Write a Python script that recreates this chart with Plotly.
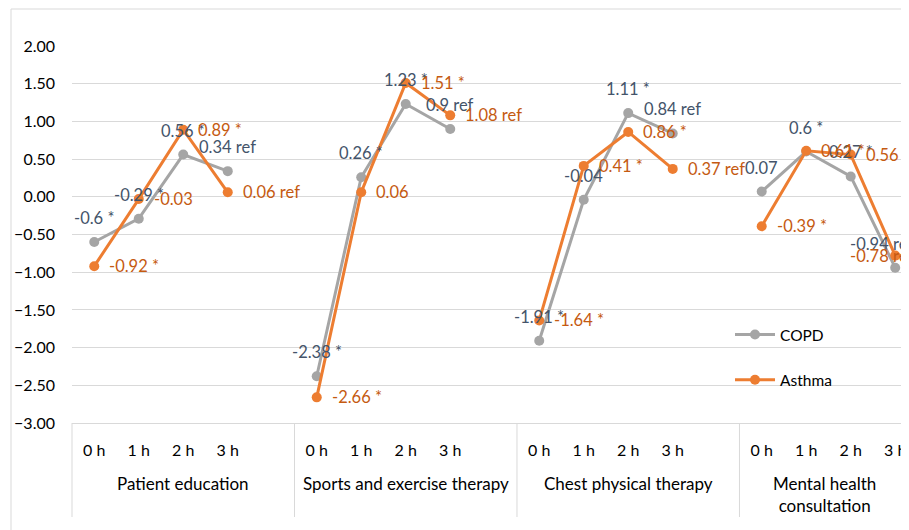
import plotly.graph_objects as go

groups = ["Patient education", "Sports and exercise therapy", "Chest physical therapy", "Mental health<br>consultation"]
times = ["0 h", "1 h", "2 h", "3 h"]

copd = [[-0.6, -0.29, 0.56, 0.34],
        [-2.38, 0.26, 1.23, 0.9],
        [-1.91, -0.04, 1.11, 0.84],
        [0.07, 0.6, 0.27, -0.94]]
copd_labels = [["-0.6 *", "-0.29 *", "0.56 *", "0.34 ref"],
               ["-2.38 *", "0.26 *", "1.23 *", "0.9 ref"],
               ["-1.91 *", "-0.04", "1.11 *", "0.84 ref"],
               ["0.07", "0.6 *", "0.27 *", "-0.94 ref"]]
asthma = [[-0.92, -0.03, 0.89, 0.06],
          [-2.66, 0.06, 1.51, 1.08],
          [-1.64, 0.41, 0.86, 0.37],
          [-0.39, 0.61, 0.56, -0.78]]
asthma_labels = [["-0.92 *", "-0.03", "0.89 *", "0.06 ref"],
                 ["-2.66 *", "0.06", "1.51 *", "1.08 ref"],
                 ["-1.64 *", "0.41 *", "0.86 *", "0.37 ref"],
                 ["-0.39 *", "0.61 *", "0.56 *", "-0.78 ref"]]
y_ticks = [2.0, 1.5, 1.0, 0.5, 0.0, -0.5, -1.0, -1.5, -2.0, -2.5, -3.0]

FONT = "Lato, 'Open Sans', sans-serif"
SLOTS = len(times) + 1  # one empty slot after each group
r0, r1 = -0.5, 18.31

def build(values, labels):
    xs, ys, ts = [], [], []
    for g, (vals, labs) in enumerate(zip(values, labels)):
        for t, (v, l) in enumerate(zip(vals, labs)):
            xs.append(g * SLOTS + t)
            ys.append(v)
            ts.append(l)
        xs.append(None); ys.append(None); ts.append(None)
    return xs, ys, ts

plot_w, plot_h = 837, 377
def px_x(p):
    return (p - 72) / plot_w
def px_y(p):
    return (423 - p) / plot_h
def data_to_px(xv):
    return 72 + (xv - r0) / (r1 - r0) * plot_w

CHART_EDGE = 915  # right edge of the (cropped) chart area, labels are kept inside it

fig = go.Figure()
annotations = []

series = [("COPD", copd, copd_labels, "#A5A5A5", "#44546A", "a"),
          ("Asthma", asthma, asthma_labels, "#ED7D31", "#C55A11", "b")]
for name, vals, labs, lc, tc, grp in series:
    x, y, t = build(vals, labs)
    fig.add_trace(go.Scatter(x=x, y=y, mode="lines+markers", name=name,
                             line=dict(color=lc, width=3), marker=dict(size=10, color=lc),
                             connectgaps=False, legendgroup=grp, cliponaxis=False))
    for xi, yi, ti in zip(x, y, t):
        if ti is None:
            continue
        font = dict(size=16.5, family=FONT, color=tc)
        near_edge = xi > r1 - 1
        if near_edge:
            annotations.append(dict(x=xi, y=yi, xref="x", yref="y", text=ti, showarrow=False,
                                    xanchor="right", yanchor="middle",
                                    xshift=CHART_EDGE - data_to_px(xi),
                                    yshift=24 if name == "COPD" else 0, font=font))
        elif name == "COPD":
            annotations.append(dict(x=xi, y=yi, xref="x", yref="y", text=ti, showarrow=False,
                                    xanchor="center", yanchor="middle", yshift=24, font=font))
        else:
            annotations.append(dict(x=xi, y=yi, xref="x", yref="y", text=ti, showarrow=False,
                                    xanchor="left", yanchor="middle", xshift=13, font=font))

tickvals, ticktext = [], []
for g in range(len(groups)):
    for i, tt in enumerate(times):
        tickvals.append(g * SLOTS + i)
        ticktext.append(tt)

fig.update_xaxes(range=[r0, r1], tickvals=tickvals, ticktext=ticktext, showgrid=False,
                 showline=True, linecolor="#D9D9D9", linewidth=1, zeroline=False,
                 tickfont=dict(size=16, family=FONT, color="#000000"), ticks="", ticklabelstandoff=13)
fig.update_yaxes(range=[-3, 2], tickvals=y_ticks, tickformat=".2f", showgrid=True,
                 gridcolor="#D9D9D9", gridwidth=1, zeroline=False, showline=False,
                 tickfont=dict(size=16, family=FONT, color="#000000"), ticks="", ticklabelstandoff=16)

shapes = []
for g in range(len(groups)):
    b = g * SLOTS - 0.5
    xp = (b - r0) / (r1 - r0)
    shapes.append(dict(type="line", xref="paper", yref="paper", x0=xp, x1=xp, y0=0, y1=px_y(517),
                       line=dict(color="#D9D9D9", width=1)))
# chart border
shapes.append(dict(type="line", xref="paper", yref="paper", x0=px_x(11), x1=px_x(11), y0=px_y(9), y1=px_y(540),
                   line=dict(color="#D9D9D9", width=1)))
shapes.append(dict(type="line", xref="paper", yref="paper", x0=px_x(11), x1=px_x(920), y0=px_y(9), y1=px_y(9),
                   line=dict(color="#D9D9D9", width=1)))

for g, name in enumerate(groups):
    lo = max(g * SLOTS - 0.5, r0)
    hi = min(g * SLOTS + len(times) + 0.5, r1)
    two = "<br>" in name
    annotations.append(dict(x=(lo + hi) / 2, y=px_y(494 if two else 483), xref="x", yref="paper",
                            text=name, showarrow=False, xanchor="center", yanchor="middle",
                            font=dict(size=17, family=FONT, color="#000000")))

# page is rendered with an 8px body margin; figure spans page pixels 8..909 x 8..530
fig.update_layout(width=901, height=522, margin=dict(l=64, r=0, t=38, b=107),
                  paper_bgcolor="white", plot_bgcolor="white", shapes=shapes, annotations=annotations,
                  showlegend=True,
                  legend=dict(x=px_x(730), y=px_y(318), xanchor="left", yanchor="top",
                              bgcolor="rgba(0,0,0,0)", font=dict(size=15.5, family=FONT, color="#000000"),
                              tracegroupgap=22, itemwidth=40))
fig.write_html("out.html")
